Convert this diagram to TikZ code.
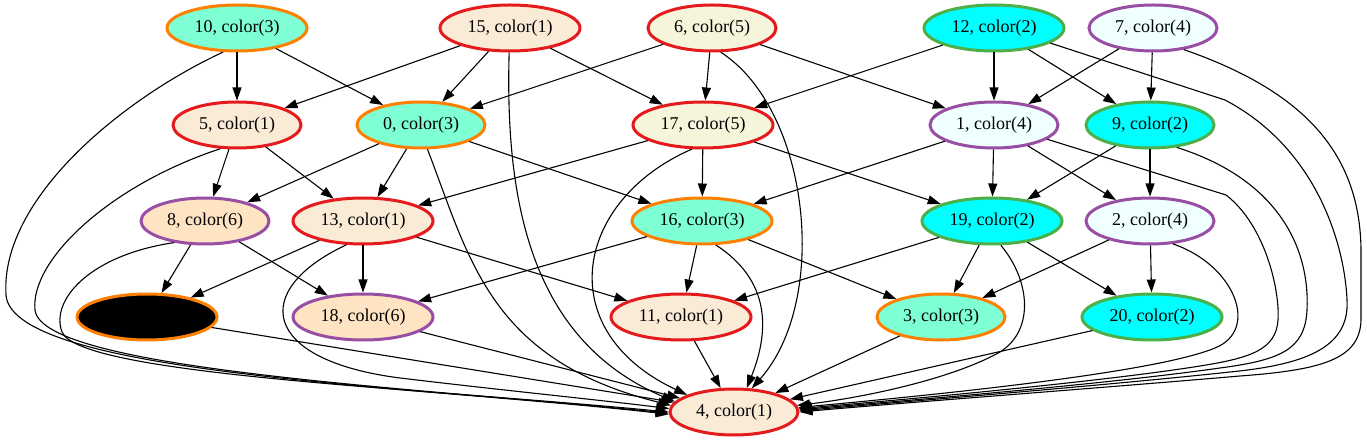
\documentclass[tikz,border=0pt]{standalone}
\usepackage{fontspec}
\setmainfont{Liberation Serif}
\usetikzlibrary{shapes.geometric,arrows.meta}
\definecolor{cRed}{HTML}{E41A1C}
\definecolor{cGreen}{HTML}{4DAF4A}
\definecolor{cPurple}{HTML}{984EA3}
\definecolor{cOrange}{HTML}{FF7F00}
\definecolor{fAW}{HTML}{FAEBD7}
\definecolor{fAqua}{HTML}{7FFFD4}
\definecolor{fCyan}{HTML}{00FFFF}
\definecolor{fAzure}{HTML}{F0FFFF}
\definecolor{fBeige}{HTML}{F5F5DC}
\definecolor{fBisque}{HTML}{FFE4C4}
\begin{document}
\begin{tikzpicture}[x=1pt,y=-1pt,
  nd/.style={ellipse, line width=3pt, minimum height=46pt, inner sep=0pt, font=\fontsize{18}{20}\selectfont},
  wide/.style={minimum width=140pt},
  narrow/.style={minimum width=128pt},
  c1/.style={draw=cRed, fill=fAW},
  c2/.style={draw=cGreen, fill=fCyan},
  c3/.style={draw=cOrange, fill=fAqua},
  c4/.style={draw=cPurple, fill=fAzure},
  c5/.style={draw=cRed, fill=fBeige},
  c6/.style={draw=cPurple, fill=fBisque},
  edge/.style={line width=1.1pt, -{Triangle[length=13pt,width=9pt]}}]
\useasboundingbox (0,0) rectangle (1367,443);
% nodes
\node[nd,wide,c3] (n10) at (237,28) {10, color(3)};
\node[nd,wide,c1] (n15) at (510,28) {15, color(1)};
\node[nd,narrow,c5] (n6) at (712,28) {6, color(5)};
\node[nd,wide,c2] (n12) at (994,28) {12, color(2)};
\node[nd,narrow,c4] (n7) at (1153,28) {7, color(4)};
\node[nd,narrow,c1] (n5) at (237,125) {5, color(1)};
\node[nd,narrow,c3] (n0) at (421,125) {0, color(3)};
\node[nd,wide,c5] (n17) at (703,125) {17, color(5)};
\node[nd,narrow,c4] (n1) at (994,125) {1, color(4)};
\node[nd,narrow,c2] (n9) at (1150,125) {9, color(2)};
\node[nd,narrow,c6] (n8) at (205,221) {8, color(6)};
\node[nd,wide,c1] (n13) at (363,221) {13, color(1)};
\node[nd,wide,c3] (n16) at (702,221) {16, color(3)};
\node[nd,wide,c2] (n19) at (992,221) {19, color(2)};
\node[nd,narrow,c4] (n2) at (1150,221) {2, color(4)};
\node[nd,wide,draw=cOrange,fill=black] (nb) at (147,317) {};
\node[nd,wide,c6] (n18) at (363,317) {18, color(6)};
\node[nd,wide,c1] (n11) at (681,317) {11, color(1)};
\node[nd,narrow,c3] (n3) at (941,317) {3, color(3)};
\node[nd,wide,c2] (n20) at (1152,317) {20, color(2)};
\node[nd,narrow,c1] (n4) at (734,412) {4, color(1)};
% straight edges
\foreach \a/\b in {n10/n5,n10/n0,n15/n5,n15/n0,n15/n17,n6/n0,n6/n17,n6/n1,
  n12/n17,n12/n1,n12/n9,n7/n1,n7/n9,n5/n8,n5/n13,n0/n8,n0/n13,n0/n16,
  n17/n13,n17/n16,n17/n19,n1/n16,n1/n19,n1/n2,n9/n19,n9/n2,
  n8/nb,n8/n18,n13/nb,n13/n18,n13/n11,n16/n18,n16/n11,n16/n3,
  n19/n11,n19/n3,n19/n20,n2/n3,n2/n20,nb/n4,n18/n4,n11/n4,n3/n4,n20/n4}
  \draw[edge] (\a) -- (\b);
% curved edges into 4 (left)
\draw[edge] (n10.240) .. controls (120,100) and (0,200) .. (6,295) .. controls (12,375) and (420,386) .. (n4.182);
\draw[edge] (n5.235) .. controls (110,185) and (30,260) .. (35,310) .. controls (42,370) and (420,388) .. (n4.181);
\draw[edge] (n8.215) .. controls (90,255) and (50,300) .. (62,332) .. controls (80,375) and (420,388) .. (n4.180);
\draw[edge] (n13.235) .. controls (250,290) and (260,360) .. (400,378) .. controls (500,390) and (600,400) .. (n4.177);
\draw[edge] (n0.285) .. controls (470,260) and (490,360) .. (n4.174);
\draw[edge] (n15.268) .. controls (505,200) and (530,340) .. (n4.170);
\draw[edge] (n17.245) .. controls (575,200) and (550,330) .. (n4.160);
\draw[edge] (n16.300) .. controls (770,280) and (770,330) .. (n4.62);
\draw[edge] (n6.290) .. controls (810,110) and (830,300) .. (n4.53);
% curved edges into 4 (right)
\draw[edge] (n19.290) .. controls (1030,280) and (1035,330) .. (1000,352) .. controls (950,380) and (860,398) .. (n4.6);
\draw[edge] (n2.315) .. controls (1235,265) and (1260,330) .. (1215,348) .. controls (1150,375) and (900,398) .. (n4.4);
\draw[edge] (n1.345) -- (1226,195) .. controls (1265,225) and (1280,290) .. (1278,320) .. controls (1276,350) and (1250,358) .. (1200,366) .. controls (1100,382) and (900,400) .. (n4.3);
\draw[edge] (n9.320) .. controls (1280,180) and (1310,250) .. (1307,310) .. controls (1305,350) and (1280,360) .. (1220,368) .. controls (1100,385) and (900,401) .. (n4.2);
\draw[edge] (n12.345) -- (1225,100) .. controls (1320,150) and (1345,250) .. (1347,300) .. controls (1350,350) and (1300,365) .. (1230,372) .. controls (1100,386) and (900,402) .. (n4.1);
\draw[edge] (n7.325) .. controls (1300,90) and (1360,150) .. (1361,250) -- (1361,320) .. controls (1360,360) and (1320,370) .. (1240,376) .. controls (1100,388) and (900,403) .. (n4.0);
\end{tikzpicture}
\end{document}
